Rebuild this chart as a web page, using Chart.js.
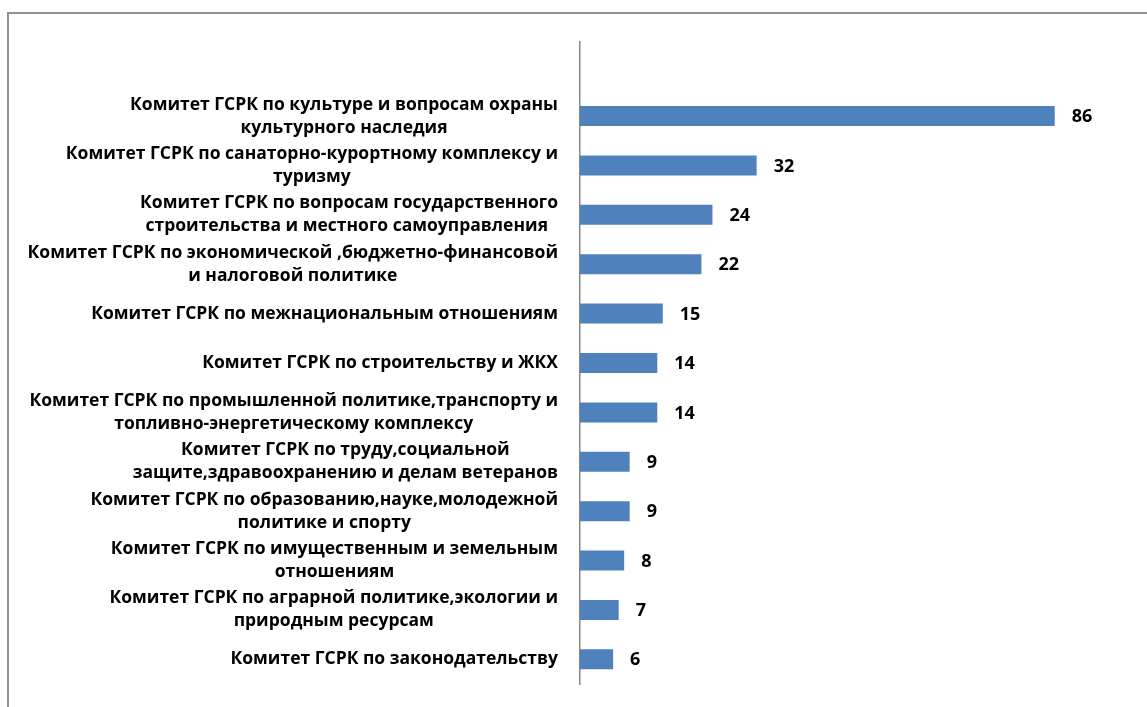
<!DOCTYPE html>
<html>
<head>
<meta charset="utf-8">
<script src="https://cdn.jsdelivr.net/npm/chart.js@4/dist/chart.umd.min.js"></script>
<style>
  html, body { margin: 0; padding: 0; background: #ffffff; overflow: hidden; }
  #wrap { position: relative; width: 1147px; height: 707px; }
  #frame { position: absolute; left: 7px; top: 12px; width: 1300px; height: 900px;
           border-left: 2px solid #8f8f8f; border-top: 2px solid #8f8f8f; pointer-events: none; }
  canvas { position: absolute; left: 0; top: 0; }
</style>
</head>
<body>
<div id="wrap">
  <canvas id="c" width="1147" height="707"></canvas>
  <div id="frame"></div>
</div>
<script>
// Categories (multi-line as in the source); first row is the empty top slot of the axis
const categories = [
  [""],
  ["Комитет ГСРК по культуре и вопросам охраны", "культурного наследия"],
  ["Комитет ГСРК по санаторно-курортному комплексу и", "туризму"],
  ["Комитет ГСРК по вопросам государственного", "строительства и местного самоуправления "],
  ["Комитет ГСРК по экономической ,бюджетно-финансовой", "и налоговой политике"],
  ["Комитет ГСРК по межнациональным отношениям"],
  ["Комитет ГСРК по строительству и ЖКХ"],
  ["Комитет ГСРК по промышленной политике,транспорту и", "топливно-энергетическому комплексу"],
  ["Комитет ГСРК по труду,социальной", "защите,здравоохранению и делам ветеранов"],
  ["Комитет ГСРК по образованию,науке,молодежной", "политике и спорту"],
  ["Комитет ГСРК по имущественным и земельным", "отношениям"],
  ["Комитет ГСРК по аграрной политике,экологии и", "природным ресурсам"],
  ["Комитет ГСРК по законодательству"]
];
const values = [null, 86, 32, 24, 22, 15, 14, 14, 9, 9, 8, 7, 6];
const xMin = 0;
const xMax = 100;

const FONT = "bold 17.5px 'Open Sans', Lato, sans-serif";
const VFONT = "bold 18px 'Open Sans', Lato, sans-serif";
const LINE_H = 23;
const LABEL_RIGHT = 558;

const labelPlugin = {
  id: 'sideLabels',
  afterDraw(chart) {
    const ctx = chart.ctx;
    const yScale = chart.scales.y;
    ctx.save();
    ctx.font = FONT;
    ctx.fillStyle = '#000000';
    ctx.textBaseline = 'middle';
    ctx.textAlign = 'center';
    categories.forEach((lines, i) => {
      if (!lines.join('').trim()) return;
      const y = yScale.getPixelForValue(i);
      const widths = lines.map(l => ctx.measureText(l).width);
      const blockW = Math.max(...widths);
      const cx = LABEL_RIGHT - blockW / 2;
      const n = lines.length;
      lines.forEach((l, k) => {
        ctx.fillText(l, cx, y + (k - (n - 1) / 2) * LINE_H);
      });
    });
    // value labels
    const meta = chart.getDatasetMeta(0);
    ctx.font = VFONT;
    ctx.textAlign = 'left';
    meta.data.forEach((bar, i) => {
      const v = values[i];
      if (v === null || v === undefined) return;
      ctx.fillText(String(v), bar.x + 17, bar.y + 1);
    });
    ctx.restore();
  }
};

new Chart(document.getElementById('c'), {
  type: 'bar',
  data: {
    labels: categories,
    datasets: [{
      data: values,
      backgroundColor: '#4F81BD',
      borderWidth: 0,
      categoryPercentage: 1.0,
      barPercentage: 0.405
    }]
  },
  options: {
    indexAxis: 'y',
    responsive: false,
    animation: false,
    devicePixelRatio: 1,
    layout: { padding: { left: 0, right: 15, top: 42, bottom: 23 } },
    plugins: { legend: { display: false }, tooltip: { enabled: false } },
    scales: {
      x: { display: false, min: xMin, max: xMax },
      y: {
        display: true,
        grid: { display: false },
        ticks: { display: false },
        border: { display: true, color: '#868686', width: 1.5 },
        afterFit(scale) { scale.width = 580; }
      }
    }
  },
  plugins: [labelPlugin]
});
</script>
</body>
</html>
